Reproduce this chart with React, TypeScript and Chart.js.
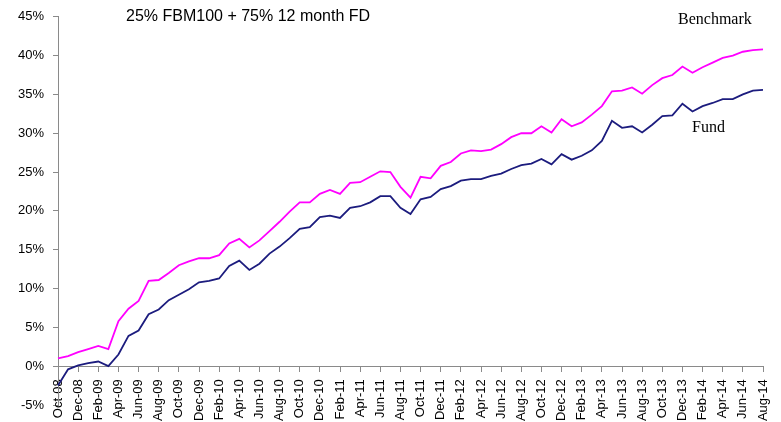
import React, { useEffect, useRef } from "react";
import { Chart, registerables } from "chart.js";

Chart.register(...registerables);

const months: string[] = [
  "Oct-08", "Nov-08", "Dec-08",
  "Jan-09", "Feb-09", "Mar-09", "Apr-09", "May-09", "Jun-09", "Jul-09", "Aug-09", "Sep-09", "Oct-09", "Nov-09", "Dec-09",
  "Jan-10", "Feb-10", "Mar-10", "Apr-10", "May-10", "Jun-10", "Jul-10", "Aug-10", "Sep-10", "Oct-10", "Nov-10", "Dec-10",
  "Jan-11", "Feb-11", "Mar-11", "Apr-11", "May-11", "Jun-11", "Jul-11", "Aug-11", "Sep-11", "Oct-11", "Nov-11", "Dec-11",
  "Jan-12", "Feb-12", "Mar-12", "Apr-12", "May-12", "Jun-12", "Jul-12", "Aug-12", "Sep-12", "Oct-12", "Nov-12", "Dec-12",
  "Jan-13", "Feb-13", "Mar-13", "Apr-13", "May-13", "Jun-13", "Jul-13", "Aug-13", "Sep-13", "Oct-13", "Nov-13", "Dec-13",
  "Jan-14", "Feb-14", "Mar-14", "Apr-14", "May-14", "Jun-14", "Jul-14", "Aug-14",
];

const benchmark: number[] = [
  1.0, 1.3, 1.8,
  2.2, 2.6, 2.2, 5.8, 7.4, 8.4, 11.0, 11.1, 12.0, 13.0, 13.5, 13.9,
  13.9, 14.3, 15.8, 16.4, 15.3, 16.2, 17.4, 18.6, 19.9, 21.1, 21.1, 22.2,
  22.7, 22.2, 23.6, 23.7, 24.4, 25.1, 25.0, 23.1, 21.7, 24.4, 24.2, 25.8,
  26.3, 27.4, 27.8, 27.7, 27.9, 28.6, 29.5, 30.0, 30.0, 30.9, 30.1, 31.8,
  30.9, 31.4, 32.4, 33.5, 35.4, 35.5, 35.9, 35.1, 36.2, 37.1, 37.5, 38.6,
  37.8, 38.5, 39.1, 39.7, 40.0, 40.5, 40.7, 40.8,
];

const fund: number[] = [
  -2.5, -0.4, 0.1,
  0.4, 0.6, 0.0, 1.5, 3.9, 4.6, 6.7, 7.3, 8.5, 9.2, 9.9, 10.8,
  11.0, 11.3, 12.9, 13.6, 12.4, 13.2, 14.5, 15.4, 16.5, 17.7, 17.9, 19.2,
  19.4, 19.1, 20.4, 20.6, 21.1, 21.9, 21.9, 20.4, 19.6, 21.5, 21.8, 22.8,
  23.2, 23.9, 24.1, 24.1, 24.5, 24.8, 25.4, 25.9, 26.1, 26.7, 26.0, 27.3,
  26.6, 27.1, 27.8, 29.0, 31.6, 30.7, 30.9, 30.1, 31.1, 32.2, 32.3, 33.8,
  32.8, 33.5, 33.9, 34.4, 34.4, 35.0, 35.5, 35.6,
];

const titleText = "25% FBM100 + 75% 12 month FD";
const benchmarkLabel = "Benchmark";
const fundLabel = "Fund";

const textPlugin = {
  id: "annotText",
  afterDraw(chart: any) {
    const ctx = chart.ctx;
    ctx.save();
    ctx.fillStyle = "#000";
    ctx.textBaseline = "alphabetic";
    ctx.textAlign = "left";
    ctx.font = "16px 'Liberation Sans', Arial, sans-serif";
    ctx.fillText(titleText, 126, 21);
    ctx.font = "16px 'Liberation Serif', 'Times New Roman', serif";
    ctx.fillText(benchmarkLabel, 678, 24);
    ctx.fillText(fundLabel, 692, 132);
    ctx.restore();
  },
};

export default function App() {
  const ref = useRef<HTMLCanvasElement | null>(null);

  useEffect(() => {
    if (!ref.current) return;
    const axisColor = "#8a8a8a";
    const font = { family: "'Liberation Sans', Arial, sans-serif", size: 13 };
    const chart = new Chart(ref.current, {
      type: "line",
      data: {
        labels: months,
        datasets: [
          {
            label: "Benchmark",
            data: benchmark,
            borderColor: "#ff00ff",
            borderWidth: 1.8,
            pointRadius: 0,
            tension: 0,
            fill: false,
          },
          {
            label: "Fund",
            data: fund,
            borderColor: "#1c1c7e",
            borderWidth: 1.8,
            pointRadius: 0,
            tension: 0,
            fill: false,
          },
        ],
      },
      options: {
        animation: false,
        responsive: false,
        layout: { padding: { top: 16, right: 18, bottom: 17, left: 0 } },
        plugins: {
          legend: { display: false },
          title: { display: false },
          tooltip: { enabled: false },
        },
        scales: {
          x: {
            type: "category",
            position: { y: 0 } as any,
            offset: false,
            afterFit: (scale: any) => {
              scale.paddingLeft = 0;
              scale.paddingRight = 0;
            },
            grid: {
              display: true,
              drawOnChartArea: false,
              drawTicks: true,
              tickLength: 5,
              tickColor: axisColor,
            },
            border: { display: true, color: axisColor, width: 1 },
            ticks: {
              autoSkip: false,
              maxRotation: 90,
              minRotation: 90,
              padding: 8,
              color: "#000",
              font,
              callback: function (this: any, value: any, index: number) {
                return index % 2 === 0 ? months[index] : null;
              },
            },
          },
          y: {
            min: -5,
            max: 45,
            afterFit: (scale: any) => {
              scale.width = 58;
            },
            grid: {
              display: true,
              drawOnChartArea: false,
              drawTicks: true,
              tickLength: 5,
              tickColor: axisColor,
            },
            border: { display: true, color: axisColor, width: 1 },
            ticks: {
              stepSize: 5,
              padding: 9,
              color: "#000",
              font,
              callback: (v: any) => `${v}%`,
            },
          },
        },
      },
      plugins: [textPlugin],
    });
    return () => chart.destroy();
  }, []);

  return (
    <div style={{ position: "fixed", left: 0, top: 0, width: 781, height: 422, background: "#fff" }}>
      <canvas ref={ref} width={781} height={422} />
    </div>
  );
}
